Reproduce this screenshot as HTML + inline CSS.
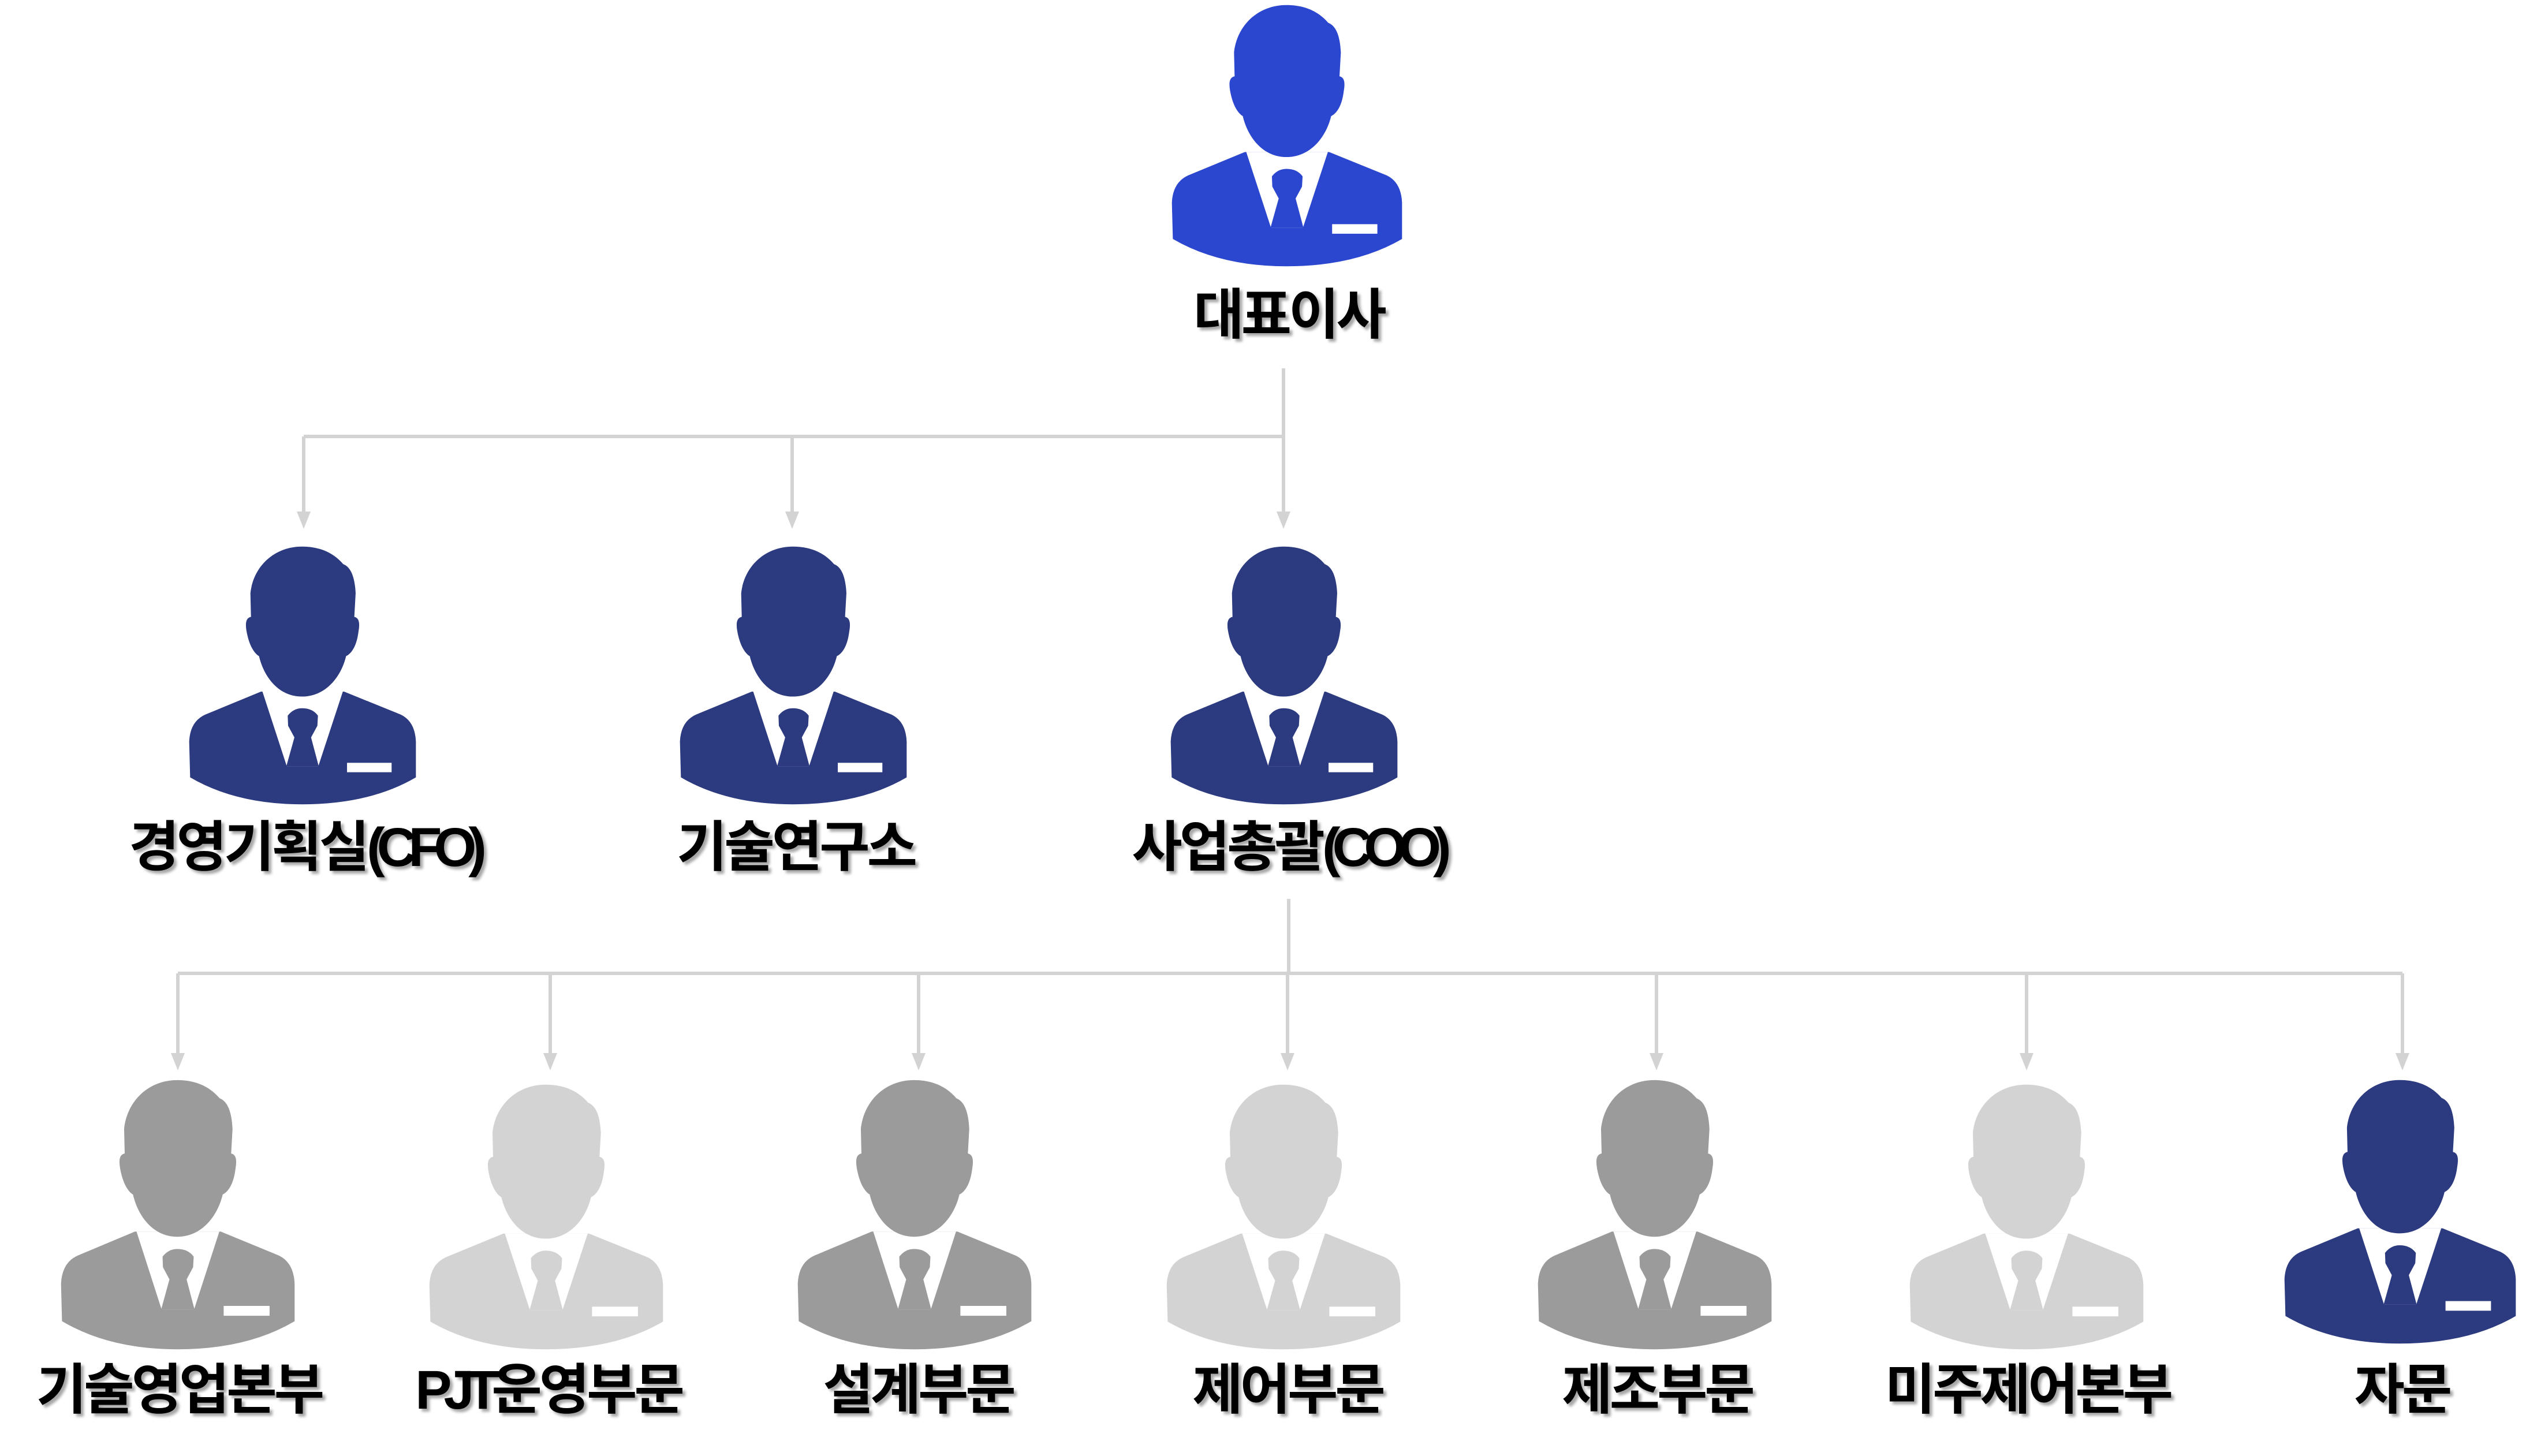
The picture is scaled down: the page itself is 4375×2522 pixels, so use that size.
<!DOCTYPE html>
<html><head><meta charset="utf-8"><style>
html,body{margin:0;padding:0;background:#fff}
body{width:4375px;height:2522px;position:relative;overflow:hidden}
.ic{position:absolute}
.lb{position:absolute;transform:translateX(-50%);white-space:nowrap;font-family:"Liberation Sans","Noto Sans CJK KR",sans-serif;font-weight:bold;font-size:95px;line-height:104px;color:#000;letter-spacing:-5px;text-shadow:5px 5px 5px rgba(0,0,0,0.35)}
.lt{letter-spacing:-14px}
</style></head><body>
<svg width="0" height="0" style="position:absolute">
<defs>
<symbol id="man" viewBox="150 20 1195 1152" preserveAspectRatio="none">
<path d="M530,668 L965,668 L1260,770 Q1335,800 1340,890 L1340,1050 Q1100,1170 745,1170 Q400,1170 160,1050 L155,890 Q160,800 240,770 Z"/>
<polygon points="538,668 665,1000 830,1000 958,668" fill="#fff"/>
<path d="M670,775 Q700,742 745,742 Q800,742 828,775 L825,820 L792,872 L832,1000 L663,1000 L705,872 L672,820Z"/>
<rect x="980" y="985" width="233" height="42" fill="#fff"/>
<path d="M745,22 C600,22 490,110 475,230 L478,335 C450,340 448,365 455,400 C470,470 500,500 520,510 C545,600 620,690 745,690 C870,690 950,600 975,510 C1000,500 1030,470 1040,400 C1047,365 1045,340 1018,335 L1025,230 C1020,140 990,110 960,100 C900,40 820,22 745,22Z"/>
</symbol>
</defs>
</svg>

<svg class="ic" style="left:0;top:0" width="4375" height="2522">
<g stroke="#d3d3d3" stroke-width="6" fill="none">
<line x1="2223" y1="638" x2="2223" y2="756"/>
<line x1="526" y1="756" x2="2226" y2="756"/>
<line x1="526" y1="756" x2="526" y2="890"/>
<line x1="1372" y1="756" x2="1372" y2="890"/>
<line x1="2223" y1="756" x2="2223" y2="890"/>
<line x1="2232" y1="1557" x2="2232" y2="1686"/>
<line x1="308" y1="1686" x2="4161" y2="1686"/>
<line x1="308" y1="1686" x2="308" y2="1828"/>
<line x1="953" y1="1686" x2="953" y2="1828"/>
<line x1="1591" y1="1686" x2="1591" y2="1828"/>
<line x1="2230" y1="1686" x2="2230" y2="1828"/>
<line x1="2869" y1="1686" x2="2869" y2="1828"/>
<line x1="3510" y1="1686" x2="3510" y2="1828"/>
<line x1="4161" y1="1686" x2="4161" y2="1828"/>
</g>
<g fill="#d3d3d3">
<polygon points="514,886 538,886 526,916"/>
<polygon points="1360,886 1384,886 1372,916"/>
<polygon points="2211,886 2235,886 2223,916"/>
<polygon points="296,1824 320,1824 308,1854"/>
<polygon points="941,1824 965,1824 953,1854"/>
<polygon points="1579,1824 1603,1824 1591,1854"/>
<polygon points="2218,1824 2242,1824 2230,1854"/>
<polygon points="2857,1824 2881,1824 2869,1854"/>
<polygon points="3498,1824 3522,1824 3510,1854"/>
<polygon points="4149,1824 4173,1824 4161,1854"/>
</g>
</svg>

<svg class="ic" style="left:2028px;top:8px" width="402" height="454" fill="#2b46cf"><use href="#man"/></svg>
<div class="lb" style="left:2232px;top:494px">대표이사</div>

<svg class="ic" style="left:326px;top:946px" width="396" height="448" fill="#2c3a80"><use href="#man"/></svg>
<svg class="ic" style="left:1176px;top:946px" width="396" height="448" fill="#2c3a80"><use href="#man"/></svg>
<svg class="ic" style="left:2026px;top:946px" width="396" height="448" fill="#2c3a80"><use href="#man"/></svg>
<div class="lb" style="left:526px;top:1416px">경영기획실<span class="lt">(CFO)</span></div>
<div class="lb" style="left:1378px;top:1416px">기술연구소</div>
<div class="lb" style="left:2230px;top:1416px">사업총괄<span class="lt">(COO)</span></div>

<svg class="ic" style="left:104px;top:1870px" width="408" height="468" fill="#9b9b9b"><use href="#man"/></svg>
<svg class="ic" style="left:742px;top:1878px" width="408" height="460" fill="#d3d3d3"><use href="#man"/></svg>
<svg class="ic" style="left:1380px;top:1870px" width="408" height="468" fill="#9b9b9b"><use href="#man"/></svg>
<svg class="ic" style="left:2019px;top:1878px" width="408" height="460" fill="#d3d3d3"><use href="#man"/></svg>
<svg class="ic" style="left:2662px;top:1870px" width="408" height="468" fill="#9b9b9b"><use href="#man"/></svg>
<svg class="ic" style="left:3306px;top:1878px" width="408" height="460" fill="#d3d3d3"><use href="#man"/></svg>
<svg class="ic" style="left:3955px;top:1870px" width="404" height="458" fill="#2c3a80"><use href="#man"/></svg>

<div class="lb" style="left:310px;top:2356px">기술영업본부</div>
<div class="lb" style="left:950px;top:2356px"><span class="lt">PJT</span>운영부문</div>
<div class="lb" style="left:1590px;top:2356px">설계부문</div>
<div class="lb" style="left:2230px;top:2356px">제어부문</div>
<div class="lb" style="left:2870px;top:2356px">제조부문</div>
<div class="lb" style="left:3512px;top:2356px">미주제어본부</div>
<div class="lb" style="left:4160px;top:2356px">자문</div>
</body></html>
